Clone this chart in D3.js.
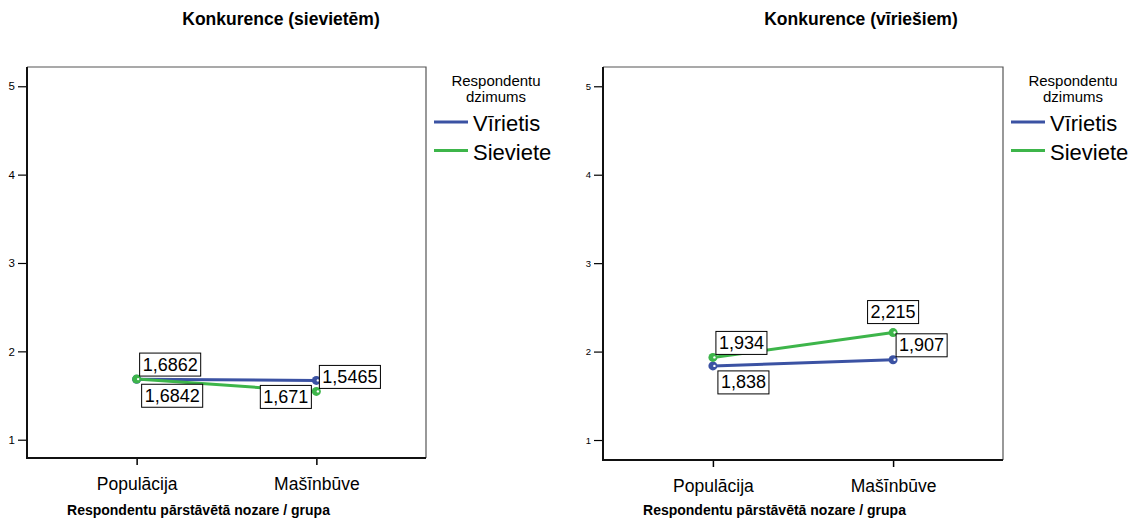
<!DOCTYPE html>
<html>
<head>
<meta charset="utf-8">
<script src="https://cdn.jsdelivr.net/npm/d3@7"></script>
<style>
  body { margin: 0; background: #fff; }
  svg { font-family: "Liberation Sans", Arial, sans-serif; }
</style>
</head>
<body>
<svg id="chart" width="1129" height="522"></svg>
<script>
// data
var categories = ["Populācija", "Mašīnbūve"];
var seriesNames = ["Vīrietis", "Sieviete"];
var seriesColors = ["#3b52a3", "#3db54a"];
var yTicks = [1, 2, 3, 4, 5];

var leftVirietis = [1.6842, 1.671];
var leftSieviete = [1.6862, 1.5465];
var rightVirietis = [1.838, 1.907];
var rightSieviete = [1.934, 2.215];

var titles = ["Konkurence (sievietēm)", "Konkurence (vīriešiem)"];
var xTitle = "Respondentu pārstāvētā nozare / grupa";
var legendTitle = ["Respondentu", "dzimums"];

var svg = d3.select("#chart");

function drawPanel(opt) {
  var g = svg.append("g");

  var x = d3.scalePoint().domain(categories)
    .range([opt.left, opt.right]).padding(0.61);
  var y = d3.scaleLinear().domain(opt.yDomain).range([opt.bottom, opt.top]);

  // title
  g.append("text")
    .attr("x", opt.titleX).attr("y", 25)
    .attr("text-anchor", "middle")
    .style("font-weight", "bold").style("font-size", "17.5px")
    .text(opt.title);

  // frame: top and right in grey
  g.append("path")
    .attr("d", "M" + opt.left + "," + opt.top + "H" + opt.right + "V" + opt.bottom)
    .attr("fill", "none").attr("stroke", "#555").attr("stroke-width", 1.2);

  // y axis
  var yAxis = d3.axisLeft(y).tickValues(yTicks).tickFormat(d3.format("d"))
    .tickSize(9).tickPadding(3);
  var ya = g.append("g").attr("transform", "translate(" + opt.left + ",0)").call(yAxis);
  ya.select(".domain").remove();
  ya.selectAll(".tick line").attr("stroke", "#000").attr("stroke-width", 1.2);
  ya.selectAll(".tick text").style("font-size", opt.yFont + "px")
    .style("font-family", "Liberation Sans, Arial, sans-serif").attr("fill", "#000");

  // x axis
  var xAxis = d3.axisBottom(x).tickSize(7).tickPadding(13);
  var xa = g.append("g").attr("transform", "translate(0," + opt.bottom + ")").call(xAxis);
  xa.select(".domain").remove();
  xa.selectAll(".tick line").attr("stroke", "#000").attr("stroke-width", 1.5);
  xa.selectAll(".tick text").style("font-size", "17.5px")
    .style("font-family", "Liberation Sans, Arial, sans-serif").attr("fill", "#000");

  // left/bottom axis lines
  g.append("path")
    .attr("d", "M" + opt.left + "," + opt.top + "V" + opt.bottom + "H" + opt.right)
    .attr("fill", "none").attr("stroke", "#111").attr("stroke-width", 2);

  g.append("text")
    .attr("x", opt.left + 171.5).attr("y", 515)
    .attr("text-anchor", "middle")
    .style("font-weight", "bold").style("font-size", "14px")
    .text(xTitle);

  // lines
  var line = d3.line()
    .x(function(d, i) { return x(categories[i]); })
    .y(function(d) { return y(d); });

  opt.series.forEach(function(vals, s) {
    g.append("path").datum(vals)
      .attr("d", line)
      .attr("fill", "none")
      .attr("stroke", seriesColors[s])
      .attr("stroke-width", 3);
  });

  opt.series.forEach(function(vals, s) {
    vals.forEach(function(v, i) {
      var cx = x(categories[i]), cy = y(v);
      g.append("circle").attr("cx", cx).attr("cy", cy).attr("r", 4.5)
        .attr("fill", seriesColors[s]);
      g.append("circle").attr("cx", cx + 1.5).attr("cy", cy).attr("r", 1.2)
        .attr("fill", "#fff");
    });
  });

  // value labels
  opt.series.forEach(function(vals, s) {
    vals.forEach(function(v, i) {
      var px = x(categories[i]), py = y(v);
      var lg = g.append("g");
      var box = lg.append("rect").attr("fill", "#fff")
        .attr("stroke", "#000").attr("stroke-width", 1);
      var t = lg.append("text").style("font-size", "18px")
        .text(String(v).replace(".", ","));
      var w = t.node().getComputedTextLength() + 6, h = 23;
      var pos = opt.placement[s][i], bx, by;
      if (pos === "ne") { bx = px + 3; by = py - 3 - h; }
      else if (pos === "se") { bx = px + 5; by = py + 5; }
      else if (pos === "sw") { bx = px - 5 - w; by = py + 5; }
      else { bx = px - w / 2; by = py - 9 - h; }
      box.attr("x", bx).attr("y", by).attr("width", w).attr("height", h);
      t.attr("x", bx + 3).attr("y", by + 17.5);
    });
  });

  // legend
  var lx = opt.right;
  var leg = g.append("g");
  leg.selectAll(".lt").data(legendTitle).enter().append("text")
    .attr("x", lx + 70).attr("y", function(d, i) { return 86 + i * 16; })
    .attr("text-anchor", "middle")
    .style("font-size", "15px")
    .text(function(d) { return d; });
  seriesNames.forEach(function(name, i) {
    var ly = 122 + i * 28.5;
    leg.append("line")
      .attr("x1", lx + 8).attr("x2", lx + 42)
      .attr("y1", ly).attr("y2", ly)
      .attr("stroke", seriesColors[i]).attr("stroke-width", 3);
    leg.append("text")
      .attr("x", lx + 47).attr("y", ly + 9)
      .style("font-size", "22px")
      .text(name);
  });
}

drawPanel({
  title: titles[0], titleX: 281,
  left: 27, right: 426, top: 67, bottom: 458,
  yDomain: [0.793, 5.218], yFont: 11.5,
  series: [leftVirietis, leftSieviete],
  placement: [["se", "sw"], ["ne", "ne"]]
});

drawPanel({
  title: titles[1], titleX: 861,
  left: 603, right: 1003, top: 67, bottom: 460,
  yDomain: [0.774, 5.218], yFont: 9.5,
  series: [rightVirietis, rightSieviete],
  placement: [["se", "ne"], ["ne", "n"]]
});
</script>
</body>
</html>
